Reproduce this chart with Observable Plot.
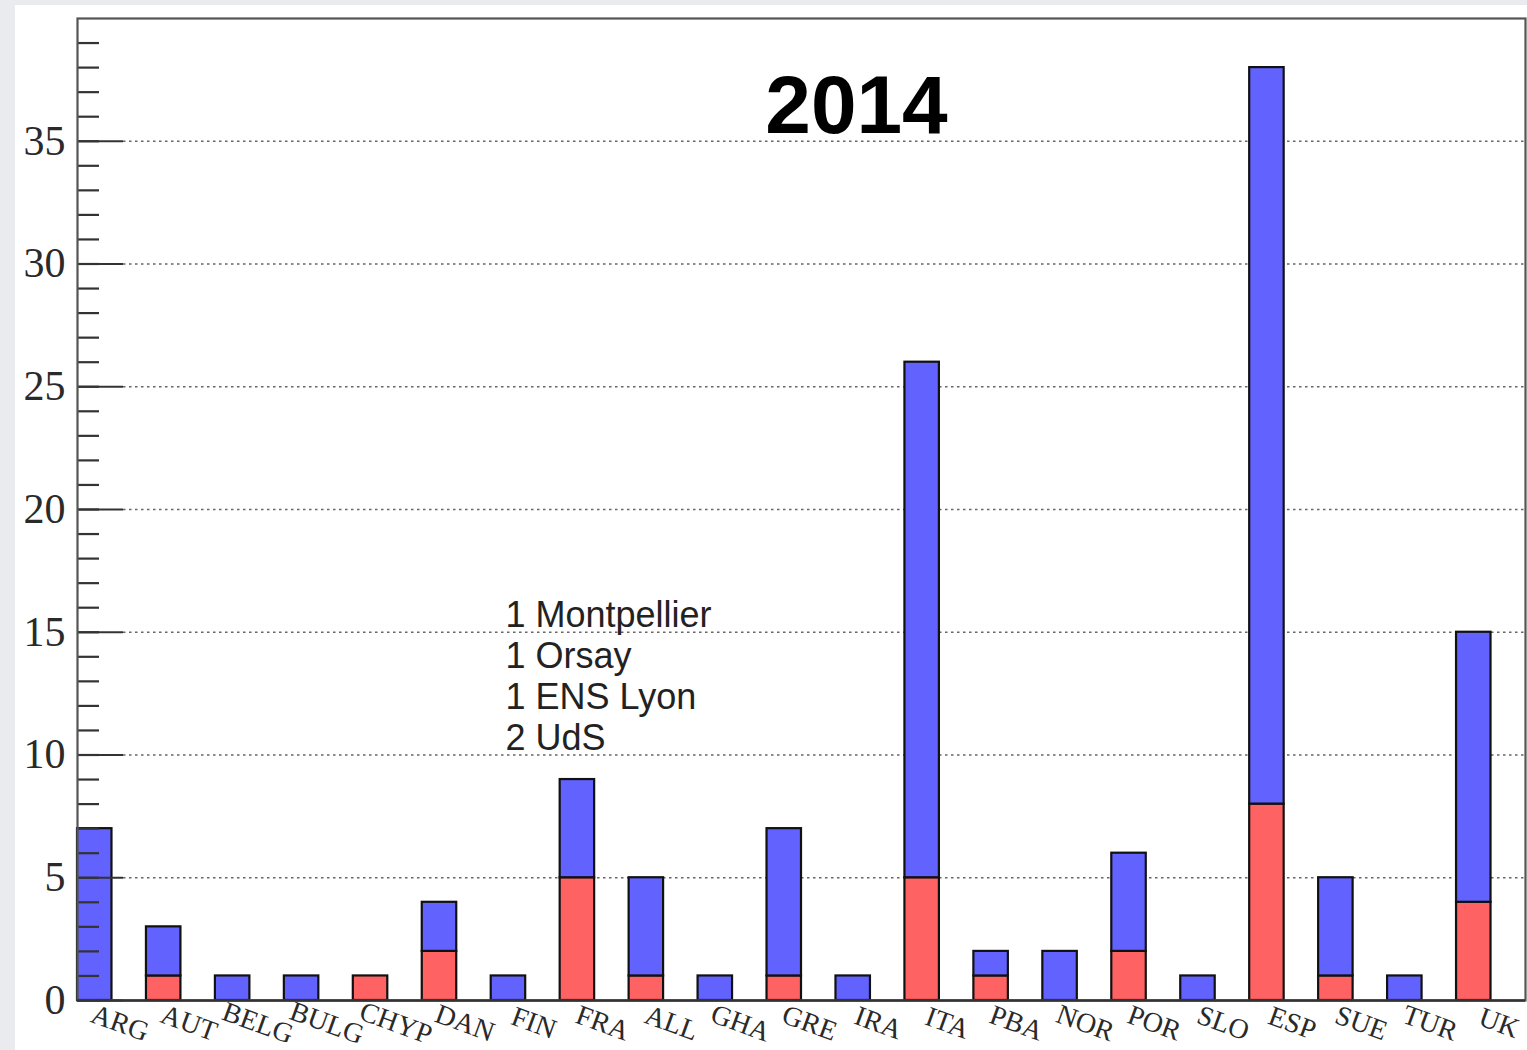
<!DOCTYPE html>
<html><head><meta charset="utf-8">
<script src="https://cdn.jsdelivr.net/npm/d3@7"></script>
<script src="https://cdn.jsdelivr.net/npm/@observablehq/plot@0.6"></script>
<style>
html,body{margin:0;padding:0;background:#e9ebee;width:1527px;height:1050px;overflow:hidden;}
#chart{position:absolute;left:15px;top:5px;background:#fff;width:1512px;height:1045px;}
#chart svg{display:block;background:#fff;}
</style></head><body><div id="chart"></div>
<script>
const countries = ["ARG","AUT","BELG","BULG","CHYP","DAN","FIN","FRA","ALL","GHA","GRE","IRA","ITA","PBA","NOR","POR","SLO","ESP","SUE","TUR","UK"];
const redValues  = [0,1,0,0,1,2,0,5,1,0,1,0,5,1,0,2,0,8,1,0,4];
const blueValues = [7,2,1,1,0,2,1,4,4,1,6,1,21,1,2,4,1,30,4,1,11];
const yTicks = [0,5,10,15,20,25,30,35];
const minorTicks = d3.range(0, 40);
const title = "2014";
const noteLines = ["1 Montpellier","1 Orsay","1 ENS Lyon","2 UdS"];

const W = 1512, H = 1045;
const mL = 62, mR = 2, mT = 13, mB = 50;
const frameW = W - mL - mR;

const rows = [];
countries.forEach((c, i) => {
  if (redValues[i] > 0) rows.push({country: c, part: "lower", value: redValues[i]});
  if (blueValues[i] > 0) rows.push({country: c, part: "upper", value: blueValues[i]});
});

const chart = Plot.plot({
  width: W, height: H,
  marginLeft: mL, marginRight: mR, marginTop: mT, marginBottom: mB,
  style: {background: "#fff"},
  x: {domain: countries, padding: 0, round: false, axis: null},
  y: {domain: [0, 40], axis: null},
  color: {type: "ordinal", domain: ["lower","upper"], range: ["#ff6262","#6262ff"]},
  marks: [
    Plot.ruleY(yTicks.filter(d => d > 0), {y: d => d, insetLeft: 46, stroke: "#666", strokeWidth: 1.6, strokeDasharray: "2.5,3.5"}),
    Plot.barY(rows, {x: "country", y: "value", fill: "part", stroke: "#111", strokeWidth: 2.2, insetRight: frameW / countries.length / 2, order: null}),
    Plot.ruleY(minorTicks, {y: d => d, insetRight: frameW - 22, stroke: "#333", strokeWidth: 2.2}),
    Plot.ruleY(yTicks, {y: d => d, insetRight: frameW - 46, stroke: "#333", strokeWidth: 2.2}),
    Plot.frame({stroke: "#555", strokeWidth: 2.2}),
    Plot.ruleY([0], {stroke: "#333", strokeWidth: 2.5}),
    Plot.axisY(yTicks, {tickSize: 0, tickPadding: 12, fontSize: 42, fontFamily: "Liberation Serif", fill: "#2a2a2a", label: null}),
    Plot.text(countries, {x: d => d, text: d => d, frameAnchor: "bottom", dy: 31, dx: 5, rotate: 20, fontSize: 28, fontFamily: "Liberation Serif", fill: "#2a2a2a"}),
    Plot.text([title], {text: d => d, frameAnchor: "top", dx: 55, dy: 56, fontSize: 82, fontWeight: "bold", fontFamily: "Liberation Sans", fill: "#000"}),
    Plot.text([noteLines.join("\n")], {text: d => d, y: () => 16.4, frameAnchor: "left", dx: 428, textAnchor: "start", lineAnchor: "top", lineHeight: 1.14, fontSize: 36, fontFamily: "Liberation Sans", fill: "#222"})
  ]
});
document.getElementById("chart").appendChild(chart);
</script>
</body></html>
